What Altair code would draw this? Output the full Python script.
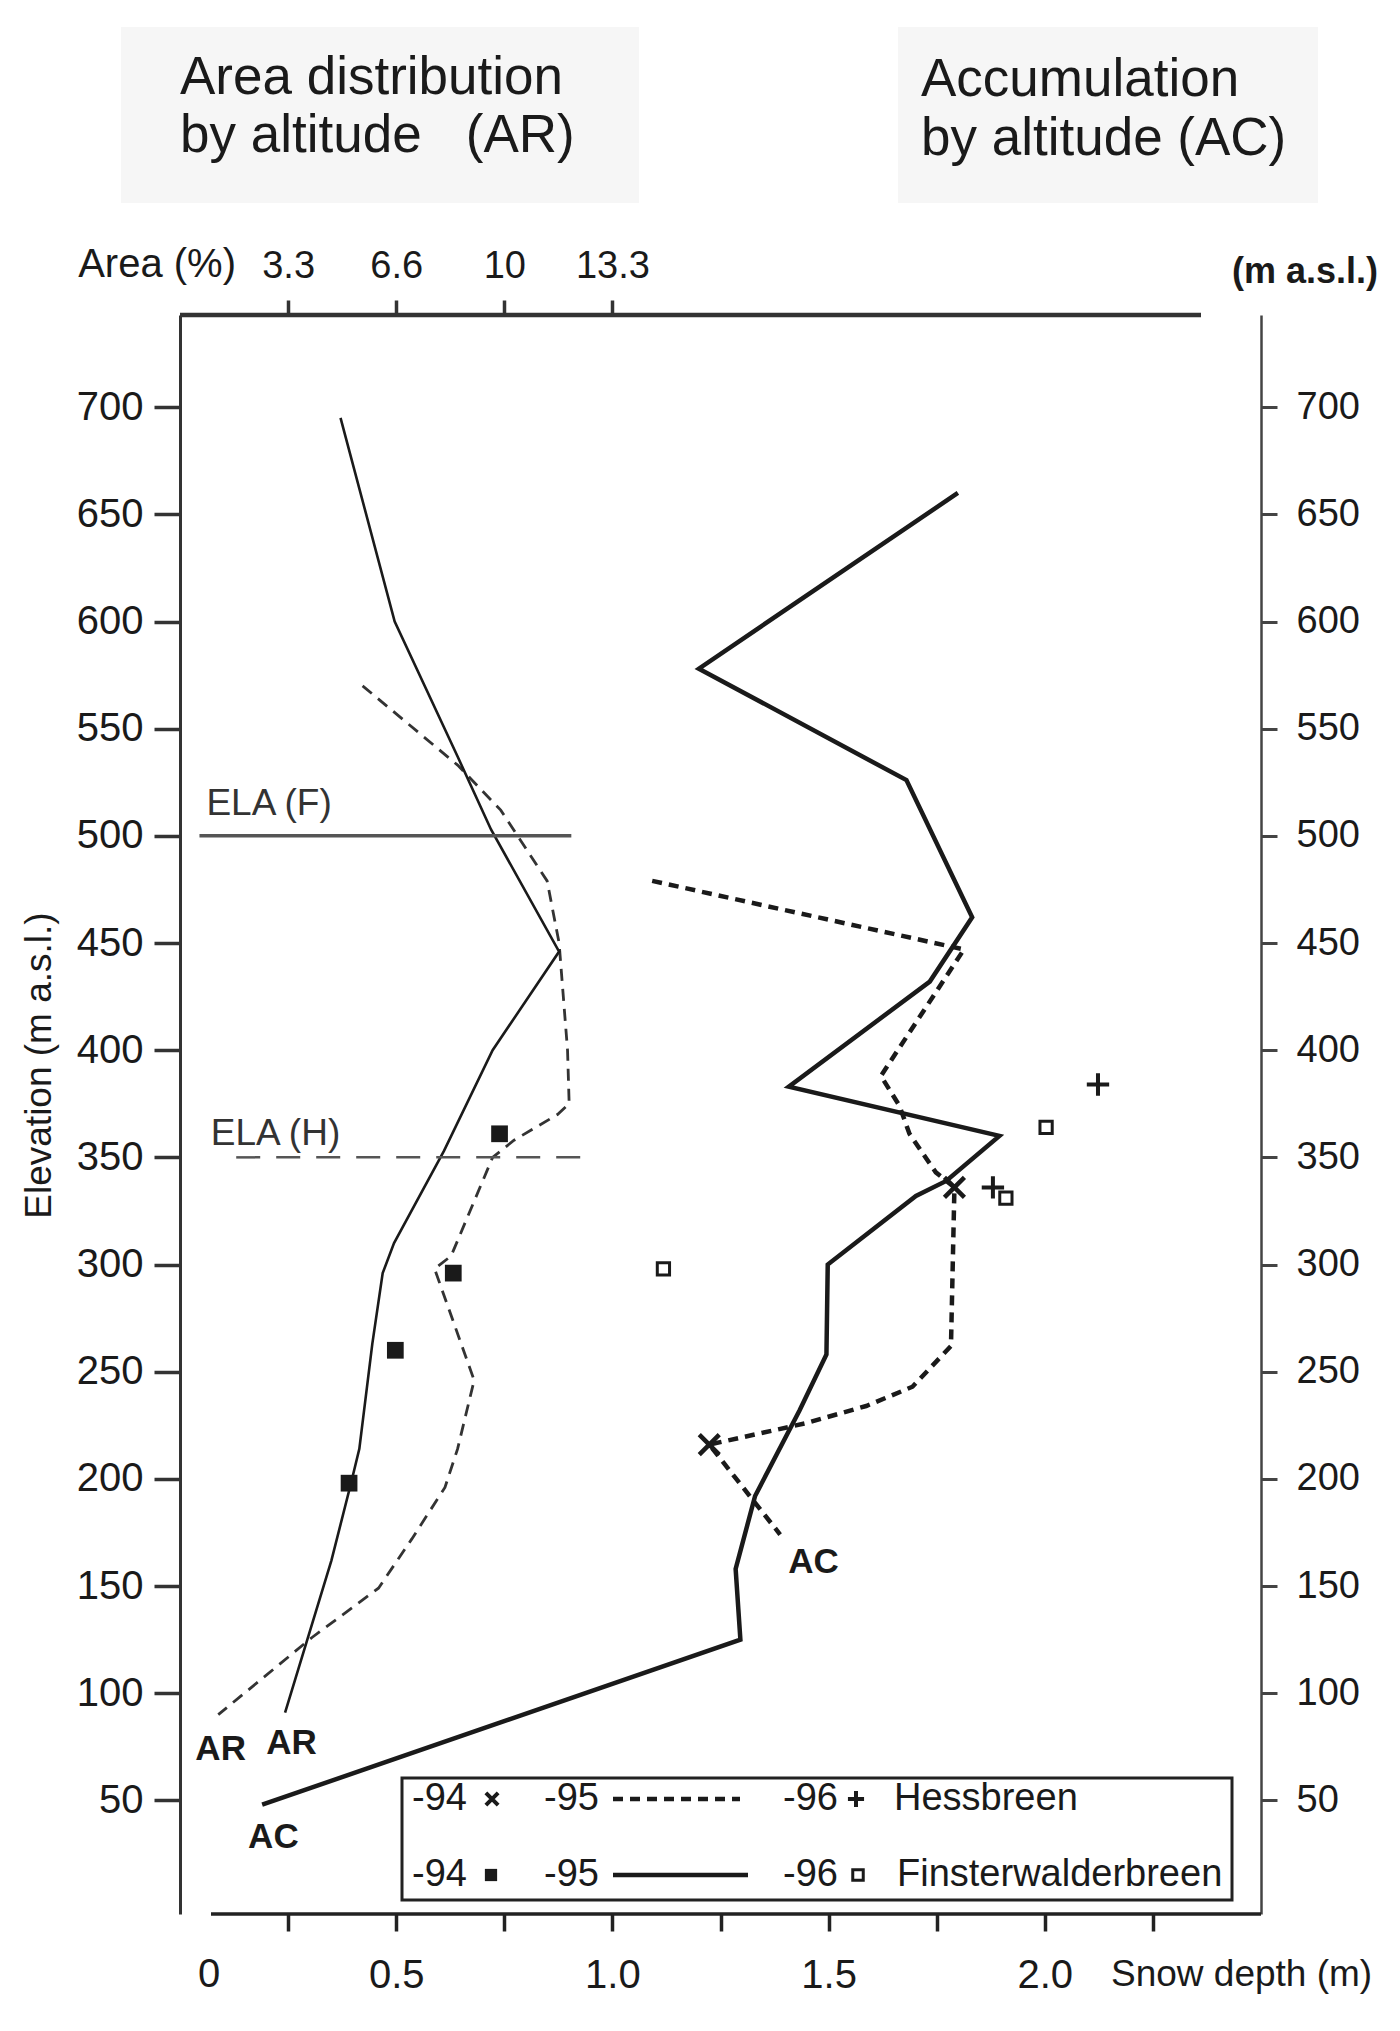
import altair as alt
import pandas as pd

# ------------------------------------------------------------------
# Data
# ------------------------------------------------------------------
# Area distribution by altitude (AR) -- area in %
ar_hess_area = [5.63, 8.56, 9.89, 11.32, 11.69, 11.95, 12.0, 11.64, 10.30, 9.64,
                8.36, 7.85, 9.07, 8.56, 8.17, 7.15, 6.12, 4.07, 1.18]
ar_hess_elev = [570, 533, 512, 479, 450, 400, 375, 370, 358, 350,
                304, 298, 246, 214, 196, 172, 149, 126, 90]

ar_fins_area = [4.95, 6.62, 8.56, 9.59, 11.69, 9.64, 8.14, 6.60, 6.25, 5.93,
                5.53, 5.29, 4.67, 3.24]
ar_fins_elev = [695, 600, 537, 503, 446, 400, 353, 310, 296, 263,
                214, 199, 162, 91]

# Accumulation by altitude (AC) -- snow depth in m
ac_hess95_depth = [1.092, 1.813, 1.621, 1.664, 1.687, 1.748, 1.791, 1.783, 1.694, 1.587,
                   1.448, 1.224, 1.388]
ac_hess95_elev = [479, 447, 388, 374, 361, 343, 336, 262, 243, 234,
                  226, 216, 174]

ac_fins95_depth = [1.799, 1.20, 1.680, 1.832, 1.734, 1.408, 1.895, 1.772, 1.702, 1.498,
                   1.495, 1.433, 1.33, 1.285, 1.296, 0.19]
ac_fins95_elev = [660, 578, 526, 462, 432, 383, 360, 339, 332, 300,
                  258, 232, 192, 158, 125, 48]

hess94_depth = [1.791, 1.224]          # "x"
hess94_elev = [336, 216]
hess96_depth = [2.123, 1.880]          # "+"
hess96_elev = [384, 336]
fins94_depth = [0.739, 0.632, 0.498, 0.391]   # filled squares
fins94_elev = [361, 296, 260, 198]
fins96_depth = [2.003, 1.910, 1.118]   # open squares
fins96_elev = [364, 331, 298]

ela_names = ["ELA (F)", "ELA (H)"]
ela_elev = [500, 350]
ela_from = [0.045, 0.13]
ela_to = [0.905, 0.955]
ela_label_depth = [0.061, 0.071]
ela_label_elev = [515, 361]

curve_labels = ["AR", "AR", "AC", "AC"]
curve_label_depth = [0.094, 0.258, 0.216, 1.465]
curve_label_elev = [74, 77, 33, 161]

elev_ticks = [50, 100, 150, 200, 250, 300, 350, 400, 450, 500, 550, 600, 650, 700]
depth_ticks = [0.25, 0.5, 0.75, 1.0, 1.25, 1.5, 1.75, 2.0, 2.25]
area_ticks = [10 / 3, 20 / 3, 10.0, 40 / 3]
area_tick_labels = ["3.3", "6.6", "10", "13.3"]

# ------------------------------------------------------------------
ELEV_DOMAIN = [-3, 743]
DEPTH_DOMAIN = [0, 2.5]
AREA_PER_M = 40 / 3          # 13.3 % of area sits over 1.0 m on the shared horizontal
AREA_DOMAIN = [0, 2.5 * AREA_PER_M]
W, H = 1081, 1599
FONT = "Liberation Sans"
INK = "#1a1a1a"


def line_df(xs, ys, xname):
    return pd.DataFrame({xname: xs, "elev": ys, "i": list(range(len(xs)))})


def pts_df(xs, ys):
    return pd.DataFrame({"depth": xs, "elev": ys})


one = alt.Data(values=[{"k": 1}])

area_expr = "''"
for v, lab in zip(area_ticks, area_tick_labels):
    area_expr = f"abs(datum.value - {v}) < 0.01 ? '{lab}' : ({area_expr})"

depth_expr = ("abs(datum.value * 2 - round(datum.value * 2)) < 0.001 ? "
              "format(datum.value, '.1f') : ''")

# ---------------- area (AR) group: top x axis, left y axis --------------
x_area = alt.X(
    "area:Q",
    scale=alt.Scale(domain=AREA_DOMAIN, nice=False, zero=False),
    axis=alt.Axis(orient="top", values=area_ticks, labelExpr=area_expr, domain=False,
                  tickSize=15, tickWidth=3.5, tickColor="#333", labelFont=FONT,
                  labelFontSize=38, labelColor=INK, labelPadding=34,
                  labelBaseline="middle", grid=False, title=None),
)
y_left = alt.Y(
    "elev:Q",
    scale=alt.Scale(domain=ELEV_DOMAIN, nice=False, zero=False),
    axis=alt.Axis(orient="left", values=elev_ticks, tickSize=26, tickWidth=3.5,
                  tickColor="#333", domainWidth=3, domainColor="#333", labelFont=FONT,
                  labelFontSize=40, labelColor=INK, labelPadding=11, grid=False,
                  title="Elevation (m a.s.l.)", titleFont=FONT, titleFontSize=37,
                  titleFontWeight="normal", titleColor=INK, titleAngle=270,
                  titleX=-141, titleY=750, titleAlign="center", titleBaseline="middle"),
)

ar_hess = alt.Chart(line_df(ar_hess_area, ar_hess_elev, "area")).mark_line(
    color="#333", strokeWidth=2.8, strokeDash=[12, 8]
).encode(x=x_area, y=y_left, order="i:Q")

ar_fins = alt.Chart(line_df(ar_fins_area, ar_fins_elev, "area")).mark_line(
    color=INK, strokeWidth=2.6
).encode(x=x_area, y=y_left, order="i:Q")

top_line = alt.Chart(one).mark_rule(color="#333", strokeWidth=4.5).encode(
    x=alt.value(0), x2=alt.value(1021), y=alt.value(0))

area_group = alt.layer(ar_hess, ar_fins, top_line)

# ---------------- depth (AC) group: bottom x axis, right y axis ----------
x_depth = alt.X(
    "depth:Q",
    scale=alt.Scale(domain=DEPTH_DOMAIN, nice=False, zero=False),
    axis=alt.Axis(orient="bottom", values=depth_ticks, labelExpr=depth_expr, domain=False,
                  tickSize=17, tickWidth=3.5, tickColor="#222", labelFont=FONT,
                  labelFontSize=40, labelColor=INK, labelPadding=44,
                  labelBaseline="middle", grid=False, title=None),
)
y_right = alt.Y(
    "elev:Q",
    scale=alt.Scale(domain=ELEV_DOMAIN, nice=False, zero=False),
    axis=alt.Axis(orient="right", values=elev_ticks, tickSize=16, tickWidth=3,
                  tickColor="#444", domainWidth=2.5, domainColor="#444", labelFont=FONT,
                  labelFontSize=38, labelColor=INK, labelPadding=19, grid=False,
                  title=None),
)

ac_fins = alt.Chart(line_df(ac_fins95_depth, ac_fins95_elev, "depth")).mark_line(
    color=INK, strokeWidth=4.5, strokeJoin="miter"
).encode(x=x_depth, y=y_right, order="i:Q")

ac_hess = alt.Chart(line_df(ac_hess95_depth, ac_hess95_elev, "depth")).mark_line(
    color=INK, strokeWidth=4.5, strokeDash=[10, 7]
).encode(x=x_depth, y=y_right, order="i:Q")

sym_x = "M-1,-1L1,1M-1,1L1,-1"
sym_plus = "M-1,0L1,0M0,-1L0,1"

m_hess94 = alt.Chart(pts_df(hess94_depth, hess94_elev)).mark_point(
    shape=sym_x, filled=False, size=400, strokeWidth=4.5, color=INK, opacity=1
).encode(x=x_depth, y=y_right)
m_hess96 = alt.Chart(pts_df(hess96_depth, hess96_elev)).mark_point(
    shape=sym_plus, filled=False, size=500, strokeWidth=4, color=INK, opacity=1
).encode(x=x_depth, y=y_right)
m_fins94 = alt.Chart(pts_df(fins94_depth, fins94_elev)).mark_point(
    shape="square", filled=True, size=280, color=INK, opacity=1
).encode(x=x_depth, y=y_right)
m_fins96 = alt.Chart(pts_df(fins96_depth, fins96_elev)).mark_point(
    shape="square", filled=False, size=150, strokeWidth=3, color=INK, opacity=1
).encode(x=x_depth, y=y_right)

ela_df = pd.DataFrame({"name": ela_names, "elev": ela_elev, "depth": ela_from,
                       "depth2": ela_to, "lx": ela_label_depth, "ly": ela_label_elev})
ela_f = alt.Chart(ela_df.iloc[[0]]).mark_rule(color="#555", strokeWidth=3.5).encode(
    x=x_depth, x2="depth2:Q", y=y_right)
ela_h = alt.Chart(ela_df.iloc[[1]]).mark_rule(
    color="#555", strokeWidth=2.5, strokeDash=[24, 16]).encode(
    x=x_depth, x2="depth2:Q", y=y_right)
ela_txt = alt.Chart(ela_df).mark_text(
    align="left", baseline="middle", font=FONT, fontSize=37, color="#333"
).encode(x=alt.X("lx:Q", scale=alt.Scale(domain=DEPTH_DOMAIN, nice=False, zero=False)),
         y=alt.Y("ly:Q", scale=alt.Scale(domain=ELEV_DOMAIN, nice=False, zero=False)),
         text="name:N")

lab_df = pd.DataFrame({"depth": curve_label_depth, "elev": curve_label_elev,
                       "label": curve_labels})
curve_txt = alt.Chart(lab_df).mark_text(
    align="center", baseline="middle", font=FONT, fontSize=35, fontWeight="bold", color=INK
).encode(x=x_depth, y=y_right, text="label:N")

bottom_line = alt.Chart(one).mark_rule(color="#222", strokeWidth=3.5).encode(
    x=alt.value(31), x2=alt.value(W), y=alt.value(H))


def ptext(txt, x, y, size, align="left", weight="normal"):
    return alt.Chart(one).mark_text(
        text=txt, align=align, baseline="middle", font=FONT, fontSize=size,
        fontWeight=weight, color=INK
    ).encode(x=alt.value(x), y=alt.value(y))


def prect(x, x2, y, y2, fill, stroke="#ffffff", sw=0):
    return alt.Chart(one).mark_rect(fill=fill, stroke=stroke, strokeWidth=sw).encode(
        x=alt.value(x), x2=alt.value(x2), y=alt.value(y), y2=alt.value(y2))


def prule(x, x2, y, sw, dash=None):
    kw = dict(color=INK, strokeWidth=sw)
    if dash:
        kw["strokeDash"] = dash
    return alt.Chart(one).mark_rule(**kw).encode(
        x=alt.value(x), x2=alt.value(x2), y=alt.value(y))


def psym(shape, x, y, size, filled, sw=0):
    kw = dict(shape=shape, filled=filled, size=size, color=INK, opacity=1)
    if sw:
        kw["strokeWidth"] = sw
    return alt.Chart(one).mark_point(**kw).encode(x=alt.value(x), y=alt.value(y))


NB = "\u00a0"
# titles with faint panels
decor = [
    prect(-59, 459, -288, -112, "#f6f6f6"),
    prect(718, 1138, -288, -112, "#f6f6f6"),
    ptext("Area distribution", 0, -237, 53),
    ptext(f"by altitude{NB}{NB}{NB}(AR)", 0, -179, 53),
    ptext("Accumulation", 741, -235, 53),
    ptext("by altitude (AC)", 741, -176, 53),
    ptext("Area (%)", 56, -50, 40, align="right"),
    ptext("(m a.s.l.)", 1052, -43, 36, weight="bold"),
    ptext("0", 29, 1660, 40, align="center"),
    ptext("Snow depth (m)", 931, 1660, 37),
]

# legend box
R1, R2 = 1484, 1560
LF = 38
legend = [
    prect(222, 1052, 1463, 1585, "#ffffff", stroke="#222", sw=3),
    ptext("-94", 232, R1, LF), psym(sym_x, 312, R1, 150, False, 4),
    ptext("-95", 364, R1, LF), prule(433, 560, R1, 4.5, [10, 7]),
    ptext("-96", 603, R1, LF), psym(sym_plus, 676, R1, 260, False, 4),
    ptext("Hessbreen", 714, R1, LF),
    ptext("-94", 232, R2, LF), psym("square", 311, R2, 150, True),
    ptext("-95", 364, R2, LF), prule(433, 568, R2, 4.5),
    ptext("-96", 603, R2, LF), psym("square", 678, R2, 110, False, 3),
    ptext("Finsterwalderbreen", 717, R2, LF),
]

depth_group = alt.layer(
    ac_fins, ac_hess, ela_f, ela_h, ela_txt, m_fins94, m_fins96, m_hess94, m_hess96,
    curve_txt, bottom_line, *decor, *legend
)

chart = alt.layer(area_group, depth_group).resolve_scale(
    x="independent", y="independent"
).properties(
    width=W, height=H,
    autosize=alt.AutoSizeParams(type="none"),
    padding={"left": 172, "top": 307, "right": 130, "bottom": 105},
    background="#ffffff",
).configure_view(stroke="transparent")

chart.save("out.html", embed_options={"renderer": "svg", "actions": False})
